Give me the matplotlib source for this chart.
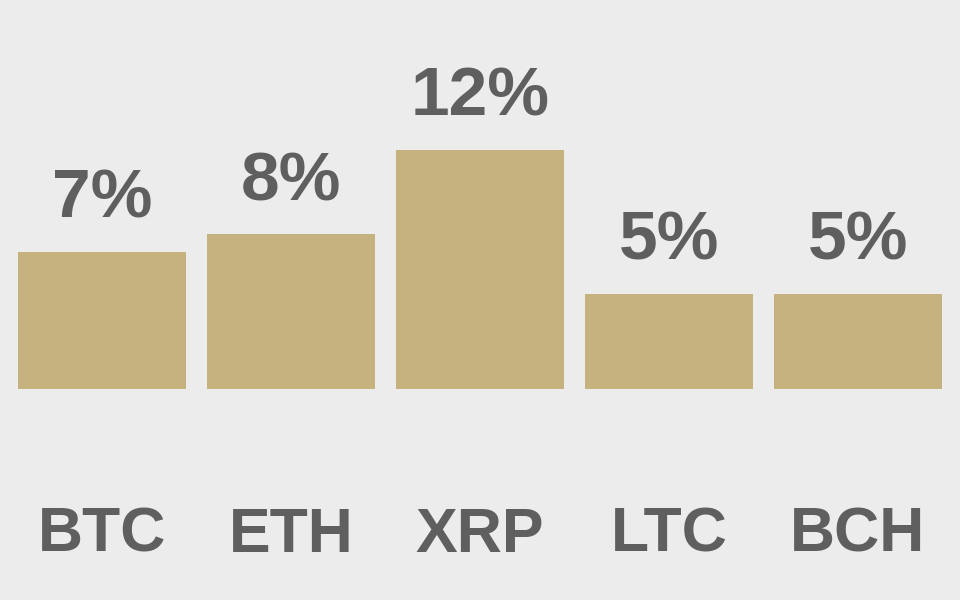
import numpy as np
import matplotlib
matplotlib.use("Agg")
import matplotlib.pyplot as plt
from matplotlib.transforms import blended_transform_factory

# data (bar heights estimated, labels rounded)
coins = ["BTC", "ETH", "XRP", "LTC", "BCH"]
shares = [7.0, 7.9, 12.2, 4.85, 4.85]
value_labels = ["7%", "8%", "12%", "5%", "5%"]

bg = "#ececec"
bar_col = "#c5b27e"
txt_col = "#5f5f5f"

plt.rcParams["font.family"] = ["Liberation Sans", "DejaVu Sans"]

fig = plt.figure(figsize=(9.6, 6), dpi=100, facecolor=bg)
# axes spans full width, baseline of bars at 211px from bottom
ax = fig.add_axes([0, 211 / 600, 1, 389 / 600])
ax.set_facecolor(bg)

x = np.arange(len(coins))
bars = ax.bar(x, shares, width=0.889, color=bar_col)

ax.set_xlim(-0.5397, 4.5397)
ax.set_ylim(0, 389 / 19.6)
ax.axis("off")

# value labels above bars
for b, lab in zip(bars, value_labels):
    ax.annotate(lab, (b.get_x() + b.get_width() / 2, b.get_height()),
                xytext=(0, 24.5), textcoords="offset points",
                ha="center", va="baseline", fontsize=50,
                fontweight="bold", color=txt_col)

# category names along the bottom
trans = blended_transform_factory(ax.transData, fig.transFigure)
for xi, name in zip(x, coins):
    ax.text(xi, 48 / 600, name, transform=trans, ha="center", va="baseline",
            fontsize=45, fontweight="bold", color=txt_col, clip_on=False)

fig.savefig("out.png", dpi=100, facecolor=bg)
